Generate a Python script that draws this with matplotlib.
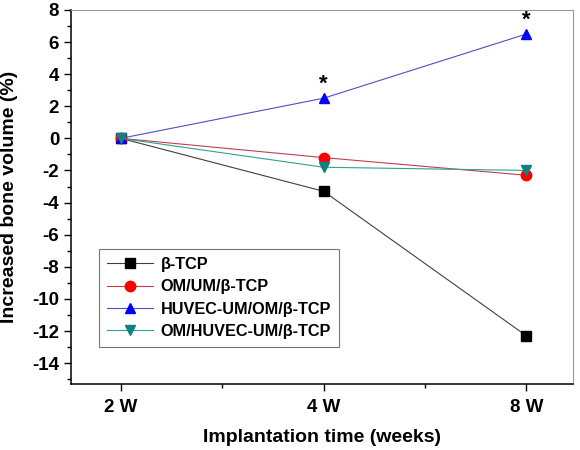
import matplotlib
matplotlib.use("Agg")
from matplotlib import pyplot as plt
from matplotlib.ticker import MultipleLocator

# data
weeks = ["2 W", "4 W", "8 W"]
tcp = [0, -3.3, -12.3]
om_um = [0, -1.2, -2.3]
huvec_um_om = [0, 2.5, 6.5]
om_huvec_um = [0, -1.8, -2.0]
star_at = [1, 2]  # indices with significance marks on the HUVEC-UM/OM series

plt.rcParams['font.family'] = ['Liberation Sans', 'DejaVu Sans']
plt.rcParams['font.weight'] = 'bold'
plt.rcParams['axes.unicode_minus'] = False

fig = plt.figure(figsize=(5.8, 4.5), dpi=100)
ax = fig.add_axes([0.1224, 0.1467, 0.8656, 0.8313])

x = [1, 2, 3]
ax.plot(x, tcp, '-s', color='#404040', lw=0.8, mfc='black', mec='black', ms=6.5, label='β-TCP')
ax.plot(x, om_um, '-o', color='#c04050', lw=0.8, mfc='red', mec='red', ms=7.5, label='OM/UM/β-TCP')
ax.plot(x, huvec_um_om, '-^', color='#5050c0', lw=0.8, mfc='blue', mec='blue', ms=7.5, label='HUVEC-UM/OM/β-TCP')
ax.plot(x, om_huvec_um, '-v', color='#30a090', lw=0.8, mfc='#108080', mec='#108080', ms=7.5, label='OM/HUVEC-UM/β-TCP')

for i in star_at:
    ax.text(x[i], huvec_um_om[i] + 0.2, '*', ha='center', va='bottom', fontsize=16, fontweight='bold')

ax.set_xlim(0.754, 3.23)
ax.set_ylim(-15.3, 8)
ax.set_xticks(x)
ax.set_xticklabels(weeks)
ax.xaxis.set_minor_locator(MultipleLocator(0.5))
ax.yaxis.set_major_locator(MultipleLocator(2))
ax.yaxis.set_minor_locator(MultipleLocator(1))
ax.tick_params(axis='both', which='major', direction='out', length=5, width=1, labelsize=13.5)
ax.tick_params(axis='both', which='minor', direction='out', length=3, width=1)
ax.tick_params(top=False, right=False, which='both')
ax.tick_params(axis='x', pad=6)
ax.xaxis.set_minor_formatter(plt.NullFormatter())

for s in ['top', 'right']:
    ax.spines[s].set_color('#999999')
    ax.spines[s].set_linewidth(0.8)
for s in ['left', 'bottom']:
    ax.spines[s].set_linewidth(1.1)

ax.set_xlabel('Implantation time (weeks)', fontsize=14, fontweight='bold', labelpad=9)
ax.set_ylabel('Increased bone volume (%)', fontsize=14, fontweight='bold')
ax.yaxis.set_label_coords(-0.105, 0.5)

leg = ax.legend(loc='lower left', bbox_to_anchor=(0.056, 0.099), borderaxespad=0, fontsize=11.7,
                fancybox=False, edgecolor='#555555', handlelength=2.8, borderpad=0.5,
                labelspacing=0.45, handletextpad=0.5)
leg.get_frame().set_linewidth(0.8)

plt.savefig('out.png', dpi=100)
